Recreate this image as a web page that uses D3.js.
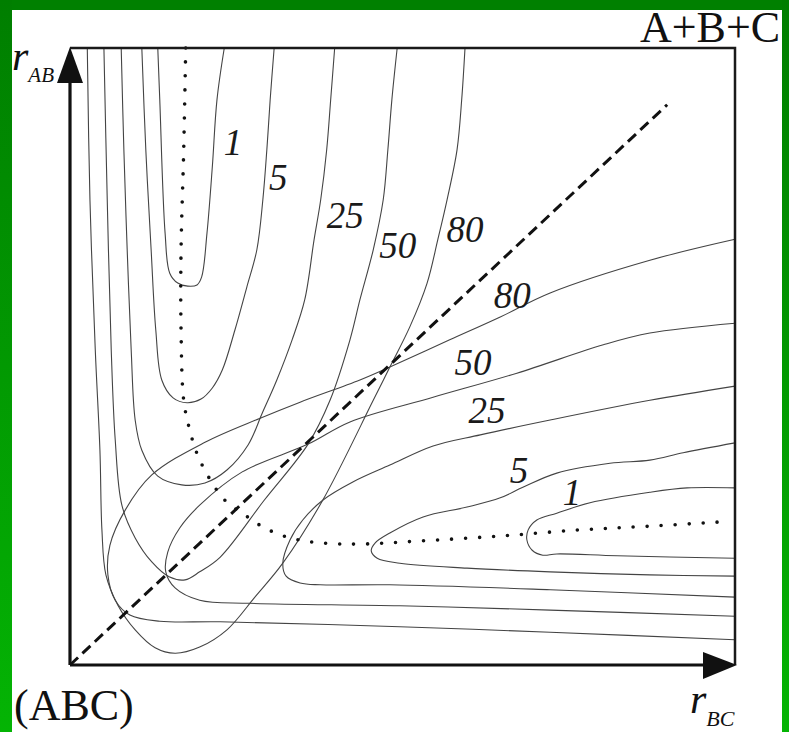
<!DOCTYPE html>
<html>
<head>
<meta charset="utf-8">
<script src="https://cdn.jsdelivr.net/npm/d3@7"></script>
<style>
  body { margin: 0; background: #fff; }
  svg { display: block; }
  .lvl { font-family: "Liberation Serif", "Times New Roman", serif; font-style: italic; font-size: 37px; fill: #1a1a1a; }
  .big { font-family: "Liberation Serif", "Times New Roman", serif; font-size: 44px; fill: #111; }
  .ax { font-family: "Liberation Serif", "Times New Roman", serif; font-style: italic; fill: #111; }
</style>
</head>
<body>
<div id="chart"></div>
<script>
// contour levels of the entrance valley (curves open upward), [r_BC, r_AB]
let v1 = [[1.32,10],[1.35,9.16],[1.43,7.00],[1.50,6.35],[1.62,6.19],[1.77,6.14],[1.91,6.16],[1.98,6.29],[2.06,7.00],[2.14,8.07],[2.21,9.16],[2.32,10]];
let v5 = [[1.08,10],[1.14,8.35],[1.22,6.73],[1.29,5.43],[1.38,4.62],[1.55,4.33],[1.76,4.25],[1.97,4.31],[2.14,4.49],[2.29,4.78],[2.48,5.43],[2.66,6.13],[2.81,6.73],[2.90,7.54],[2.96,8.35],[3.01,9.16],[3.07,10]];
let v25 = [[0.77,10],[0.81,8.35],[0.86,6.73],[0.92,5.11],[0.98,3.97],[1.08,3.48],[1.32,3.06],[1.68,2.92],[2.03,2.95],[2.36,3.16],[2.68,3.57],[2.89,4.08],[3.11,4.62],[3.34,5.27],[3.53,5.92],[3.67,6.89],[3.77,7.54],[3.86,8.35],[3.92,9.16],[3.98,10]];
let v50 = [[0.51,10],[0.56,7.54],[0.62,5.11],[0.68,3.65],[0.78,2.59],[0.98,2.06],[1.23,1.67],[1.49,1.43],[1.73,1.38],[1.95,1.51],[2.26,1.75],[2.92,2.67],[3.58,3.58],[3.91,4.29],[4.21,5.27],[4.36,5.92],[4.56,6.73],[4.71,7.54],[4.78,8.35],[4.84,9.16],[4.92,10]];
let v80 = [[0.26,10],[0.30,7.54],[0.38,5.11],[0.45,3.48],[0.48,2.19],[0.54,1.46],[0.72,0.97],[0.98,0.57],[1.28,0.28],[1.58,0.19],[1.95,0.29],[2.36,0.57],[2.78,1.10],[3.20,1.65],[3.80,2.67],[4.56,4.29],[4.81,4.83],[5.11,5.48],[5.37,6.19],[5.53,6.89],[5.67,7.54],[5.82,8.35],[5.89,9.16],[5.94,10]];

// contour levels of the exit valley (curves open to the right)
let h1 = [[10,2.87],[9.28,2.87],[8.72,2.80],[7.82,2.63],[7.32,2.46],[7.02,2.35],[6.89,2.19],[6.87,2.03],[6.95,1.86],[7.11,1.78],[7.32,1.80],[8.23,1.77],[10,1.73]];
let h5 = [[10,3.60],[9.22,3.44],[8.72,3.32],[8.12,3.27],[7.32,3.11],[6.81,2.88],[6.47,2.71],[5.97,2.56],[5.31,2.40],[4.81,2.14],[4.59,1.98],[4.53,1.85],[4.62,1.73],[4.96,1.65],[5.97,1.57],[7.22,1.51],[8.72,1.46],[10,1.44]];
let h25 = [[10,4.52],[8.72,4.29],[7.22,3.97],[6.17,3.73],[5.46,3.55],[4.81,3.24],[4.26,2.97],[3.80,2.67],[3.50,2.35],[3.31,2.03],[3.20,1.65],[3.25,1.44],[3.46,1.33],[3.76,1.30],[4.81,1.30],[7.22,1.22],[10,1.10]];
let h50 = [[10,5.54],[8.72,5.38],[8.02,5.19],[6.72,4.73],[5.46,4.34],[4.21,3.94],[3.58,3.58],[2.59,3.13],[1.95,2.59],[1.65,2.22],[1.47,1.83],[1.44,1.51],[1.58,1.25],[1.95,1.05],[2.71,1.00],[4.96,0.96],[7.22,0.89],[10,0.79]];
let h80 = [[10,6.90],[8.72,6.56],[7.22,6.03],[6.47,5.64],[5.71,5.27],[4.81,4.83],[4.36,4.62],[3.46,4.26],[2.86,4.00],[2.03,3.61],[1.23,3.08],[0.83,2.51],[0.60,1.94],[0.57,1.46],[0.68,1.05],[0.90,0.81],[1.35,0.71],[2.26,0.70],[4.96,0.62],[7.22,0.53],[10,0.41]];

// minimum energy path (dotted) and symmetry line (dashed)
let reactionPath = [[1.74,10],[1.71,8.35],[1.67,6.73],[1.67,5.43],[1.71,4.29],[1.80,3.81],[1.92,3.40],[2.11,3.00],[2.33,2.67],[2.63,2.43],[2.93,2.22],[3.31,2.06],[3.76,1.98],[4.36,1.96],[5.26,2.01],[6.47,2.09],[7.67,2.19],[8.72,2.25],[9.80,2.32]];
let diagonal = [[0,0],[8.98,9.08]];

// level labels: text, r_BC, r_AB
let vLabels = [["1",2.45,8.27],["5",3.13,7.70],["25",4.14,7.08],["50",4.93,6.60],["80",5.94,6.86]];
let hLabels = [["80",6.65,5.79],["50",6.06,4.70],["25",6.27,3.92],["5",6.75,2.95],["1",7.55,2.59]];

let svgWidth = 789;
let svgHeight = 732;

let svg = d3.select("#chart")
    .append("svg")
    .attr("width", svgWidth)
    .attr("height", svgHeight);

// green frame of the slide
let defs = svg.append("defs");
let grad = defs.append("linearGradient")
    .attr("id", "frame")
    .attr("x1", 0).attr("y1", 0).attr("x2", 0).attr("y2", 1);
grad.append("stop").attr("offset", "0%").attr("stop-color", "#007e00");
grad.append("stop").attr("offset", "100%").attr("stop-color", "#04b404");

svg.append("rect").attr("x", 0).attr("y", 0).attr("width", svgWidth).attr("height", 10).attr("fill", "#008000");
svg.append("rect").attr("x", 0).attr("y", 0).attr("width", 12).attr("height", svgHeight).attr("fill", "url(#frame)");
svg.append("rect").attr("x", 782).attr("y", 0).attr("width", 7).attr("height", svgHeight).attr("fill", "url(#frame)");

let x = d3.scaleLinear().domain([0, 10]).range([70, 735]);
let y = d3.scaleLinear().domain([0, 10]).range([665, 48]);

let line = d3.line()
    .x(d => x(d[0]))
    .y(d => y(d[1]))
    .curve(d3.curveCatmullRom.alpha(0.5));

let contours = [v1, v5, v25, v50, v80, h1, h5, h25, h50, h80];

svg.append("g").selectAll("path")
    .data(contours)
    .enter()
    .append("path")
    .attr("d", line)
    .attr("fill", "none")
    .attr("stroke", "#444")
    .attr("stroke-width", 1.1);

// dashed diagonal
svg.append("path")
    .attr("d", d3.line().x(d => x(d[0])).y(d => y(d[1]))(diagonal))
    .attr("fill", "none")
    .attr("stroke", "#111")
    .attr("stroke-width", 3)
    .attr("stroke-dasharray", "11,6");

// dotted reaction path
svg.append("path")
    .attr("d", line(reactionPath))
    .attr("fill", "none")
    .attr("stroke", "#111")
    .attr("stroke-width", 3.6)
    .attr("stroke-linecap", "round")
    .attr("stroke-dasharray", "0,14");

// box top and right
svg.append("path")
    .attr("d", `M${x(0)},${y(10)}H${x(10)}V${y(0)}`)
    .attr("fill", "none")
    .attr("stroke", "#1a1a1a")
    .attr("stroke-width", 2.5);

// axes with arrows
svg.append("path")
    .attr("d", `M${x(0)},${y(0)}V${y(10) + 30}M${x(0)},${y(0)}H${x(10) - 30}`)
    .attr("fill", "none")
    .attr("stroke", "#111")
    .attr("stroke-width", 3.2);

svg.append("path")
    .attr("d", `M${x(0)},${y(10) - 1}L${x(0) - 13},${y(10) + 35}L${x(0) + 13},${y(10) + 35}Z`)
    .attr("fill", "#111");

svg.append("path")
    .attr("d", `M${x(10) + 2},${y(0)}L${x(10) - 32},${y(0) - 13}L${x(10) - 32},${y(0) + 14}Z`)
    .attr("fill", "#111");

// level labels
svg.append("g").selectAll("text")
    .data(vLabels.concat(hLabels))
    .enter()
    .append("text")
    .attr("class", "lvl")
    .attr("x", d => x(d[1]))
    .attr("y", d => y(d[2]))
    .attr("text-anchor", "middle")
    .text(d => d[0]);

// corner texts
svg.append("text").attr("class", "big").attr("x", 640).attr("y", 42).text("A+B+C");
svg.append("text").attr("class", "big").attr("x", 14).attr("y", 720).text("(ABC)");

let rAB = svg.append("text").attr("class", "ax").attr("x", 12).attr("y", 70);
rAB.append("tspan").attr("font-size", 42).text("r");
rAB.append("tspan").attr("font-size", 21).attr("dy", 12).text("AB");

let rBC = svg.append("text").attr("class", "ax").attr("x", 690).attr("y", 713);
rBC.append("tspan").attr("font-size", 42).text("r");
rBC.append("tspan").attr("font-size", 22).attr("dy", 13).text("BC");
</script>
</body>
</html>
